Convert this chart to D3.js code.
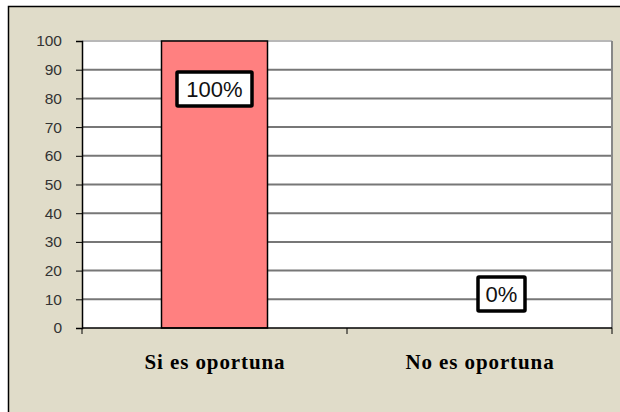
<!DOCTYPE html>
<html>
<head>
<meta charset="utf-8">
<script src="https://cdn.jsdelivr.net/npm/d3@7"></script>
<style>
  body { margin: 0; background: #fff; }
  svg { display: block; }
</style>
</head>
<body>
<div class="chart"></div>
<script>
// data
var categories = ["Si es oportuna", "No es oportuna"];
var values = [100, 0];
var valueLabels = ["100%", "0%"];
var yTicks = [0, 10, 20, 30, 40, 50, 60, 70, 80, 90, 100];

var W = 620, H = 412;
var margin = { top: 41, right: 8, bottom: 84, left: 82 },
    width = W - margin.left - margin.right,
    height = H - margin.top - margin.bottom;

var svg = d3.select(".chart").append("svg")
    .attr("width", W)
    .attr("height", H);

// chart area background + frame
svg.append("rect")
    .attr("x", 8).attr("y", 6)
    .attr("width", W).attr("height", H)
    .attr("fill", "#e0dcc9");
svg.append("path")
    .attr("d", "M8.5," + H + "V6.5H" + W)
    .attr("fill", "none")
    .attr("stroke", "#000")
    .attr("stroke-width", 1.5);

var g = svg.append("g")
    .attr("transform", "translate(" + margin.left + "," + margin.top + ")");

var x = d3.scaleBand()
    .domain(categories)
    .range([0, width])
    .paddingInner(0.6)
    .paddingOuter(0.3);

var y = d3.scaleLinear()
    .domain([0, 100])
    .range([height, 0]);

// plot area
g.append("rect")
    .attr("width", width)
    .attr("height", height)
    .attr("fill", "#fff");

// grid lines
g.selectAll(".grid")
    .data(yTicks.filter(function (d) { return d > 0; }))
    .enter().append("line")
    .attr("x1", 0).attr("x2", width)
    .attr("y1", function (d) { return y(d); })
    .attr("y2", function (d) { return y(d); })
    .attr("stroke", function (d) { return d == 100 ? "#b8b8b8" : "#777"; })
    .attr("stroke-width", 2);

// right border of plot area
g.append("line")
    .attr("x1", width).attr("x2", width)
    .attr("y1", 0).attr("y2", height)
    .attr("stroke", "#888")
    .attr("stroke-width", 2);

// bars
g.selectAll(".bar")
    .data(values)
    .enter().append("rect")
    .attr("class", "bar")
    .attr("x", function (d, i) { return x(categories[i]); })
    .attr("y", function (d) { return y(d); })
    .attr("width", x.bandwidth())
    .attr("height", function (d) { return height - y(d); })
    .attr("fill", "#ff8080")
    .attr("stroke", "#000")
    .attr("stroke-width", 1.5);

// y axis
var yAxis = g.append("g")
    .call(d3.axisLeft(y).tickValues(yTicks).tickSize(6).tickPadding(14));
yAxis.select(".domain").attr("stroke", "#000").attr("stroke-width", 1.5);
yAxis.selectAll(".tick line").attr("stroke", "#000");
yAxis.selectAll("text")
    .attr("fill", "#333")
    .attr("font-family", "Arial, 'Liberation Sans', sans-serif")
    .attr("font-size", 15.5);

// x axis (category separators)
var step = width / categories.length;
var xAxis = g.append("g")
    .attr("transform", "translate(0," + height + ")");
xAxis.append("line")
    .attr("x1", 0).attr("x2", width)
    .attr("stroke", "#000").attr("stroke-width", 1.5);
xAxis.selectAll(".sep")
    .data(d3.range(categories.length + 1))
    .enter().append("line")
    .attr("x1", function (d) { return d * step; })
    .attr("x2", function (d) { return d * step; })
    .attr("y1", 0).attr("y2", 6)
    .attr("stroke", "#000");

// category labels
g.selectAll(".cat")
    .data(categories)
    .enter().append("text")
    .attr("x", function (d) { return x(d) + x.bandwidth() / 2 + 0.5; })
    .attr("y", height + 41)
    .attr("text-anchor", "middle")
    .style("font-family", "'Liberation Serif', 'DejaVu Serif', serif")
    .style("font-weight", "bold")
    .style("font-size", "21px")
    .style("letter-spacing", "0.9px")
    .text(function (d) { return d; });

// value labels in boxes
var labelOffset = [
    { dx: 0, dy: 48 },
    { dx: 22, dy: -34 }
];
var lbl = g.selectAll(".lbl")
    .data(values)
    .enter().append("g")
    .attr("transform", function (d, i) {
        var cx = x(categories[i]) + x.bandwidth() / 2 + labelOffset[i].dx;
        var cy = y(d) + labelOffset[i].dy;
        return "translate(" + cx + "," + cy + ")";
    });
lbl.append("rect")
    .attr("x", function (d, i) { return i == 0 ? -37.5 : -23.5; })
    .attr("y", -17)
    .attr("width", function (d, i) { return i == 0 ? 75 : 47; })
    .attr("height", 34)
    .attr("fill", "#fff")
    .attr("stroke", "#000")
    .attr("stroke-width", 3.5)
    .attr("rx", 1);
lbl.append("text")
    .attr("text-anchor", "middle")
    .attr("dy", "0.36em")
    .style("font-family", "Arial, 'Liberation Sans', sans-serif")
    .style("font-size", "22px")
    .attr("fill", "#111")
    .text(function (d, i) { return valueLabels[i]; });
</script>
</body>
</html>
